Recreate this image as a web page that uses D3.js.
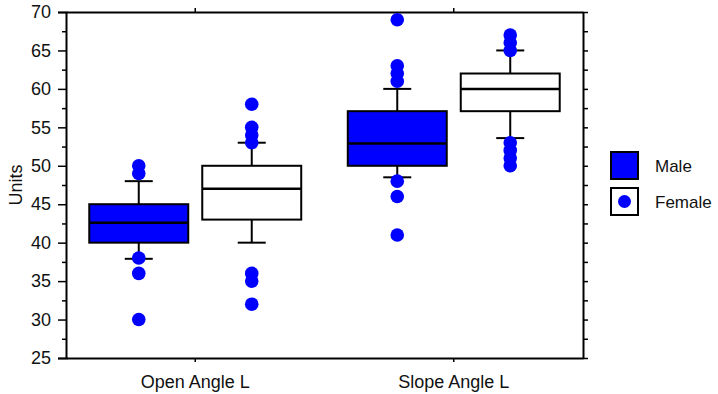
<!DOCTYPE html>
<html>
<head>
<meta charset="utf-8">
<script src="https://cdn.jsdelivr.net/npm/d3@7"></script>
<style>
  body { margin: 0; background: #fff; }
  svg text { font-family: "Liberation Sans", Arial, sans-serif; fill: #111; }
</style>
</head>
<body>
<svg></svg>
<script>
const categories = ["Open Angle L", "Slope Angle L"]
const groups = ["Male", "Female"]

// box stats per category
const maleLow = [37.9, 48.5]
const maleQ1 = [40, 50]
const maleMedian = [42.6, 52.9]
const maleQ3 = [45, 57.1]
const maleHigh = [48, 60]
const maleOutliers = [[50, 49, 38, 36, 30], [69, 63, 62, 61, 48, 46, 41]]

const femaleLow = [40, 53.6]
const femaleQ1 = [43, 57.1]
const femaleMedian = [47, 60]
const femaleQ3 = [50, 62]
const femaleHigh = [53, 65]
const femaleOutliers = [[58, 55, 54, 53, 36, 35, 32], [67, 66, 65, 53, 52, 51, 50]]

const yTicks = [25, 30, 35, 40, 45, 50, 55, 60, 65, 70]
const yMinor = d3.range(27.5, 70, 5)
const yRight = d3.range(25, 70.1, 2.5)

const width = 718, height = 394
const margin = {left: 66, right: 135, top: 12, bottom: 36}

const svg = d3.select("svg")
  .attr("width", width)
  .attr("height", height)

const boxes = groups.map(g => {
  const s = g == "Male"
    ? [maleLow, maleQ1, maleMedian, maleQ3, maleHigh, maleOutliers]
    : [femaleLow, femaleQ1, femaleMedian, femaleQ3, femaleHigh, femaleOutliers]
  return categories.map((c, i) => ({
    cat: c, group: g,
    low: s[0][i], q1: s[1][i], med: s[2][i], q3: s[3][i], high: s[4][i], out: s[5][i]
  }))
}).flat()

const x = d3.scaleBand()
  .domain(categories)
  .range([margin.left, width - margin.right])
  .padding(0)

const xSub = d3.scaleBand()
  .domain(groups)
  .range([0, x.bandwidth()])
  .paddingInner(0.124)
  .paddingOuter(0.206)

const y = d3.scaleLinear()
  .domain([25, 70])
  .range([height - margin.bottom, margin.top])

const color = d3.scaleOrdinal().domain(groups).range(["#0000ff", "#ffffff"])

// axes
const left = svg.append("g")
  .attr("transform", `translate(${margin.left},0)`)
  .call(d3.axisLeft(y).tickValues(yTicks).tickSize(8).tickPadding(7))
left.selectAll("text").style("font-size", "18px")

svg.append("g")
  .attr("transform", `translate(${margin.left},0)`)
  .call(d3.axisLeft(y).tickValues(yMinor).tickSize(4).tickFormat(""))
  .select(".domain").remove()

svg.append("g")
  .attr("transform", `translate(${width - margin.right},0)`)
  .call(d3.axisRight(y).tickValues(yRight).tickSize(5).tickFormat("").tickSizeOuter(0))

const bottom = svg.append("g")
  .attr("transform", `translate(0,${height - margin.bottom})`)
  .call(d3.axisBottom(x).tickSize(4).tickSizeOuter(0).tickPadding(13))
bottom.selectAll("text").style("font-size", "18px")

svg.append("g")
  .attr("transform", `translate(0,${margin.top})`)
  .call(d3.axisTop(x).tickSize(4).tickSizeOuter(0).tickFormat(""))

svg.selectAll(".domain").attr("stroke", "#000").attr("stroke-width", 2)
svg.selectAll(".tick line").attr("stroke", "#000").attr("stroke-width", 1.5)

svg.append("text")
  .attr("transform", `translate(22,${(margin.top + height - margin.bottom) / 2}) rotate(-90)`)
  .attr("text-anchor", "middle")
  .style("font-size", "18px")
  .text("Units")

// boxes
const bw = xSub.bandwidth()
const cap = 28
const g = svg.append("g")
  .selectAll("g")
  .data(boxes)
  .join("g")
    .attr("transform", d => `translate(${x(d.cat) + xSub(d.group)},0)`)

g.append("line")
  .attr("x1", bw / 2).attr("x2", bw / 2)
  .attr("y1", d => y(d.high)).attr("y2", d => y(d.low))
  .attr("stroke", "#000").attr("stroke-width", 2)

g.selectAll(".cap")
  .data(d => [d.high, d.low])
  .join("line")
    .attr("x1", bw / 2 - cap / 2).attr("x2", bw / 2 + cap / 2)
    .attr("y1", v => y(v)).attr("y2", v => y(v))
    .attr("stroke", "#000").attr("stroke-width", 2)

g.append("rect")
  .attr("x", 0).attr("width", bw)
  .attr("y", d => y(d.q3))
  .attr("height", d => y(d.q1) - y(d.q3))
  .attr("fill", d => color(d.group))
  .attr("stroke", "#000").attr("stroke-width", 2)

g.append("line")
  .attr("x1", 0).attr("x2", bw)
  .attr("y1", d => y(d.med)).attr("y2", d => y(d.med))
  .attr("stroke", "#000").attr("stroke-width", 2.5)

g.selectAll("circle")
  .data(d => d.out)
  .join("circle")
    .attr("cx", bw / 2)
    .attr("cy", v => y(v))
    .attr("r", 6.8)
    .attr("fill", "#0000ff")

// legend
const leg = svg.append("g").attr("transform", "translate(611,152)")
const item = leg.selectAll("g")
  .data(groups)
  .join("g")
    .attr("transform", (d, i) => `translate(0,${i * 36})`)

item.append("rect")
  .attr("width", 27).attr("height", 27)
  .attr("fill", d => color(d))
  .attr("stroke", "#000").attr("stroke-width", 2)

item.filter(d => d == "Female").append("circle")
  .attr("cx", 13.5).attr("cy", 13.5).attr("r", 6.5)
  .attr("fill", "#0000ff")

item.append("text")
  .attr("x", 44).attr("y", 14).attr("dy", "0.35em")
  .style("font-size", "17px")
  .text(d => d)
</script>
</body>
</html>
